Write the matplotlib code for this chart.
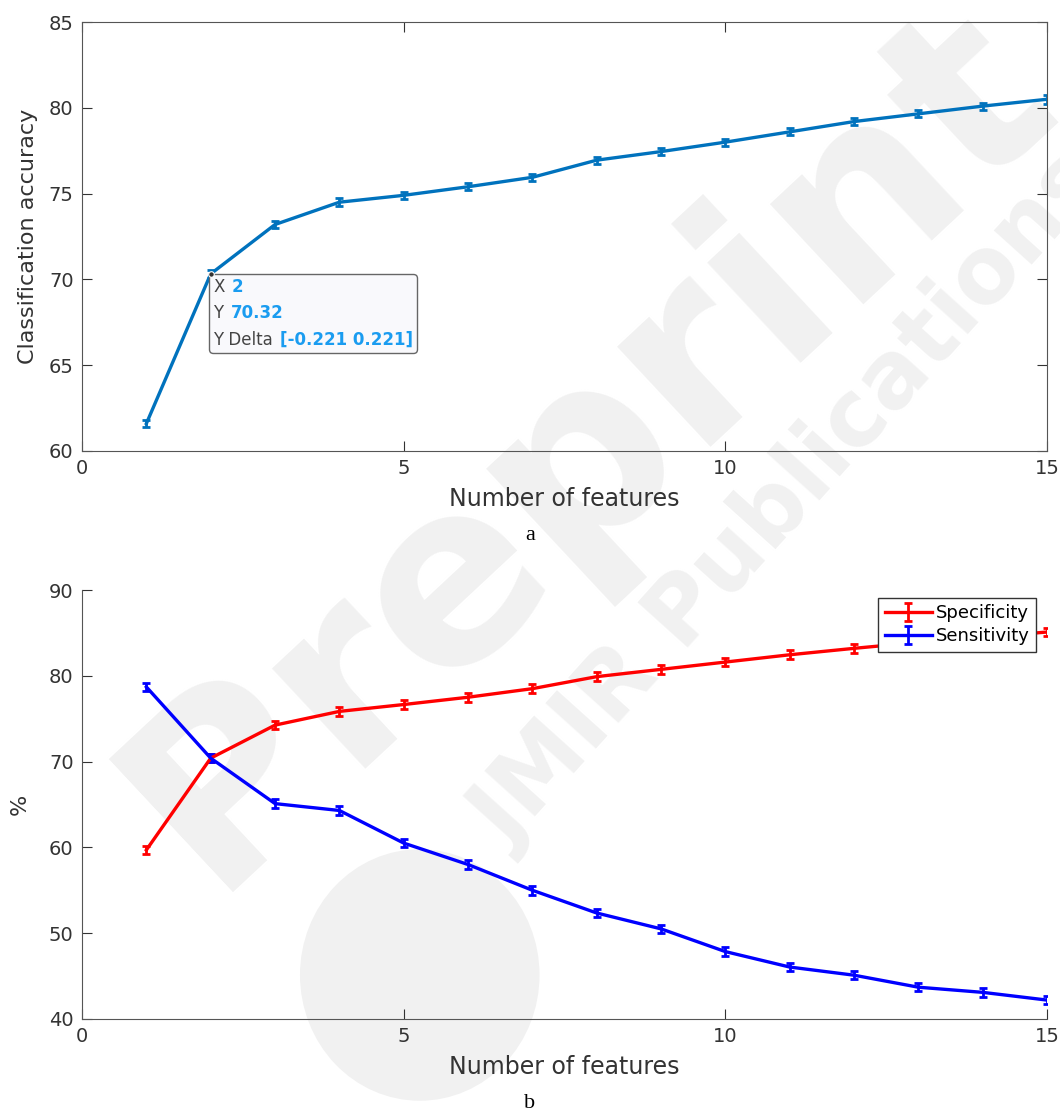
import numpy as np
import matplotlib
matplotlib.use('Agg')
import matplotlib.pyplot as plt
from matplotlib.offsetbox import TextArea, HPacker, VPacker, AnnotationBbox
from matplotlib.patches import Circle

# данные
n_features = [1, 2, 3, 4, 5, 6, 7, 8, 9, 10, 11, 12, 13, 14, 15]
accuracy = [61.6, 70.32, 73.2, 74.5, 74.9, 75.4, 75.95, 76.95, 77.45, 78.0, 78.6, 79.2, 79.65, 80.1, 80.5]
accuracy_err = [0.22, 0.221, 0.22, 0.22, 0.2, 0.2, 0.2, 0.2, 0.2, 0.2, 0.2, 0.2, 0.2, 0.2, 0.25]
specificity = [59.7, 70.4, 74.25, 75.85, 76.65, 77.5, 78.5, 79.9, 80.75, 81.6, 82.45, 83.2, 83.9, 84.5, 85.1]
sensitivity = [78.7, 70.4, 65.1, 64.3, 60.5, 58.0, 55.0, 52.35, 50.5, 47.85, 46.05, 45.1, 43.7, 43.1, 42.2]
spec_err = [0.5] * 15
sens_err = [0.5] * 15

tip_x, tip_y, tip_delta = 2, 70.32, 0.221

txt = '#333333'
plt.rcParams['font.family'] = ['DejaVu Sans']

fig = plt.figure(figsize=(10.6, 11.13), dpi=100)

# водяной знак
wm = '#f1f1f1'
fig.text(0.555, 0.60, 'Preprint', fontsize=180, fontweight='bold', color=wm,
         rotation=43, ha='center', va='center', zorder=-5)
fig.text(0.745, 0.55, 'JMIR Publications', fontsize=66, fontweight='bold', color=wm,
         rotation=48, ha='center', va='center', zorder=-5)
fig.patches.append(Circle((0.396, 0.124), 0.113, transform=fig.transFigure,
                          facecolor=wm, edgecolor='none', zorder=-5))

# график a
ax1 = fig.add_axes([0.0774, 0.5948, 0.9104, 0.3854])
ax1.set_facecolor('none')
ax1.errorbar(n_features, accuracy, yerr=accuracy_err, color='#0072BD', lw=2.4,
             capsize=3, capthick=2, elinewidth=2)
ax1.plot(tip_x, tip_y, 'o', ms=4, mfc='#333333', mec='white', mew=0.8, zorder=5)
ax1.set_xlim(0, 15)
ax1.set_ylim(60, 85)
ax1.set_xticks([0, 5, 10, 15])
ax1.set_yticks([60, 65, 70, 75, 80, 85])
ax1.tick_params(direction='in', length=7, top=True, right=True, labelsize=14,
                labelcolor=txt, color=txt, pad=6)
for s in ax1.spines.values():
    s.set_color('#555555')
ax1.set_xlabel('Number of features', fontsize=17, color=txt, labelpad=6)
ax1.set_ylabel('Classification accuracy', fontsize=16, color=txt, labelpad=8)
fig.text(0.5, 1 - 535 / 1113, 'a', fontsize=16, family='Liberation Serif',
         ha='center', va='center')

# подсказка (datatip)
blue = '#1a9cf0'
gray = '#444444'
def row(lbl, val):
    return HPacker(children=[TextArea(lbl, textprops=dict(color=gray, size=12)),
                             TextArea(val, textprops=dict(color=blue, size=12, weight='bold'))],
                   sep=5, align='baseline')
box = VPacker(children=[row('X', f'{tip_x}'), row('Y', f'{tip_y}'),
                        row('Y Delta', f'[-{tip_delta} {tip_delta}]')],
              sep=6, pad=0, align='left')
ab = AnnotationBbox(box, (tip_x, tip_y), xybox=(2, -3), xycoords='data',
                    boxcoords='offset points', box_alignment=(0, 1), pad=0.5,
                    bboxprops=dict(boxstyle='round,pad=0.3,rounding_size=0.3',
                                   fc='#f9f9fc', ec='#666666', lw=1))
ax1.add_artist(ab)

# график b
ax2 = fig.add_axes([0.0774, 0.0845, 0.9104, 0.3854])
ax2.set_facecolor('none')
ax2.errorbar(n_features, specificity, yerr=spec_err, color='red', lw=2.4,
             capsize=3, capthick=2, elinewidth=2, label='Specificity')
ax2.errorbar(n_features, sensitivity, yerr=sens_err, color='blue', lw=2.4,
             capsize=3, capthick=2, elinewidth=2, label='Sensitivity')
ax2.set_xlim(0, 15)
ax2.set_ylim(40, 90)
ax2.set_xticks([0, 5, 10, 15])
ax2.set_yticks([40, 50, 60, 70, 80, 90])
ax2.spines['top'].set_visible(False)
ax2.spines['right'].set_visible(False)
for s in ax2.spines.values():
    s.set_color('#555555')
ax2.tick_params(direction='in', length=7, labelsize=14, labelcolor=txt, color=txt, pad=6)
ax2.set_xlabel('Number of features', fontsize=17, color=txt, labelpad=6)
ax2.set_ylabel('%', fontsize=16, color=txt, labelpad=14)
leg = ax2.legend(loc='upper right', bbox_to_anchor=(0.989, 0.982), fontsize=13,
                 frameon=True, fancybox=False, framealpha=1, borderpad=0.35,
                 handlelength=2.6, handletextpad=0.25, labelspacing=0.3,
                 borderaxespad=0)
leg.get_frame().set_edgecolor('#333333')
leg.get_frame().set_linewidth(1)
fig.text(0.5, 1 - 1103 / 1113, 'b', fontsize=16, family='Liberation Serif',
         ha='center', va='center')

fig.savefig('out.png', dpi=100)
